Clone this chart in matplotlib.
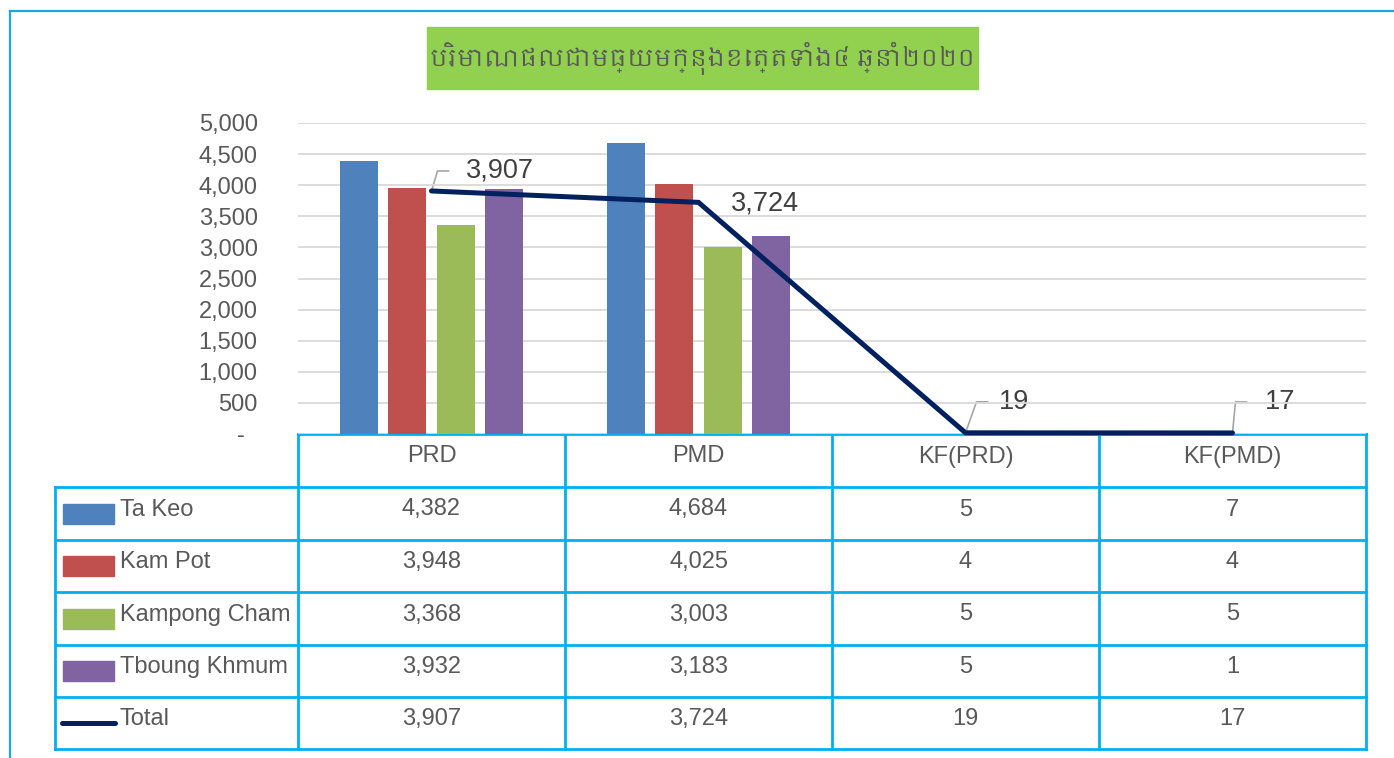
import matplotlib
matplotlib.use('Agg')
import matplotlib.pyplot as plt
from matplotlib import font_manager
from matplotlib.patches import Rectangle
import numpy as np

# data
categories = ['PRD', 'PMD', 'KF(PRD)', 'KF(PMD)']
series_names = ['Ta Keo', 'Kam Pot', 'Kampong Cham', 'Tboung Khmum']
ta_keo = [4382, 4684, 5, 7]
kam_pot = [3948, 4025, 4, 4]
kampong_cham = [3368, 3003, 5, 5]
tboung_khmum = [3932, 3183, 5, 1]
total = [3907, 3724, 19, 17]
yticks = [0, 500, 1000, 1500, 2000, 2500, 3000, 3500, 4000, 4500, 5000]
title = 'បរិមាណផលជាមធ្យមក្នុងខេត្តទាំង៤ ឆ្នាំ២០២០'

series = [ta_keo, kam_pot, kampong_cham, tboung_khmum]

# styles
colors = ['#4F81BD', '#C0504D', '#9BBB59', '#8064A2']
line_color = '#002060'
grid_color = '#D9D9D9'
table_color = '#00B0F0'
text_color = '#595959'

plt.rcParams['font.family'] = ['Liberation Sans', 'DejaVu Sans']
khmer = [f.name for f in font_manager.fontManager.ttflist if 'Khmer' in f.name]
title_family = khmer[:1] + ['Noto Sans', 'DejaVu Sans']

W, H = 1394, 758
fig = plt.figure(figsize=(W / 100, H / 100), dpi=100)

# background layer in pixel coords (y up)
bg = fig.add_axes([0, 0, 1, 1], zorder=0)
bg.set_xlim(0, W)
bg.set_ylim(0, H)
bg.axis('off')

# chart area
ax = fig.add_axes([298 / W, (H - 434) / H, 1068 / W, 311 / H], zorder=1)
ax.patch.set_alpha(0)
x = np.arange(len(categories))
ax.set_xlim(-0.5, len(categories) - 0.5)
ax.set_ylim(0, 5000)

for j, (vals, c) in enumerate(zip(series, colors)):
    ax.bar(x + (j - 1.5) * 0.182, vals, 0.142, color=c, zorder=2)

ax.plot(x, total, color=line_color, lw=3.6, zorder=3, clip_on=False,
        solid_capstyle='round', solid_joinstyle='miter')

ax.set_yticks(yticks)
ax.set_yticklabels([f'{v:,}' if v else '-  ' for v in yticks])
ax.set_xticks([])
ax.tick_params(length=0, pad=29, labelsize=17, labelcolor=text_color)
ax.yaxis.grid(True, color=grid_color, lw=1.3)
ax.set_axisbelow(True)
for s in ax.spines.values():
    s.set_visible(False)

# data labels: (corner dx, corner dy, leader end dx, label dx, label dy), pixels
label_pos = [(6, 20, 17, 34, 20), None, (11, 31, 22, 33, 31), (3, 31, 14, 32, 31)]
for i, v in enumerate(total):
    px, py = ax.transData.transform((x[i], v))
    lp = label_pos[i]
    if lp is None:
        bg.text(px + 32, py - 1, f'{v:,}', fontsize=19.5, color='#404040',
                ha='left', va='center')
        continue
    cx, cy, ex, lx, ly = lp
    bg.plot([px, px + cx, px + ex], [py, py + cy, py + cy], color='#A6A6A6', lw=1.2, zorder=4)
    bg.text(px + lx, py + ly, f'{v:,}', fontsize=19.5, color='#404040',
            ha='left', va='center')

# data table under the chart
edges = [ax.transData.transform((k - 0.5, 0))[0] for k in range(len(categories) + 1)]
centers = [ax.transData.transform((k, 0))[0] for k in range(len(categories))]
rows = [434, 487, 540, 592, 645, 697, 749]
left = 55
tlw = 2.0

bg.plot([edges[0], edges[-1]], [H - rows[0]] * 2, color=table_color, lw=tlw)
for r in rows[1:]:
    bg.plot([left, edges[-1]], [H - r] * 2, color=table_color, lw=tlw)
for e in edges:
    bg.plot([e, e], [H - rows[0], H - rows[-1]], color=table_color, lw=tlw)
bg.plot([left, left], [H - rows[1], H - rows[-1]], color=table_color, lw=tlw)

for cx, cat in zip(centers, categories):
    bg.text(cx, H - (rows[0] + rows[1]) / 2 + 4, cat, fontsize=17,
            color=text_color, ha='center', va='center')

row_names = series_names + ['Total']
row_vals = series + [total]
for k, (name, vals) in enumerate(zip(row_names, row_vals)):
    rc = (rows[k + 1] + rows[k + 2]) / 2
    if k < len(series):
        bg.add_patch(Rectangle((63, H - rc - 10), 51, 20, color=colors[k]))
    else:
        bg.plot([62, 115], [H - rc] * 2, color=line_color, lw=3.6, solid_capstyle='round')
    bg.text(120, H - rc + 4, name, fontsize=17, color=text_color,
            ha='left', va='center')
    for cx, v in zip(centers, vals):
        bg.text(cx, H - rc + 4, f'{v:,}', fontsize=17, color=text_color,
                ha='center', va='center')

# title box
bg.add_patch(Rectangle((427, H - 89), 551, 62, color='#92D050'))
bg.text(702.5, H - 58, title, fontsize=17, color=text_color, ha='center',
        va='center', family=title_family)

# outer frame
bg.plot([9.5, 9.5], [0, H - 11], color='#1EA5DE', lw=1.6)
bg.plot([9.5, W], [H - 11, H - 11], color='#1EA5DE', lw=1.6)

fig.savefig('out.png', dpi=100)
